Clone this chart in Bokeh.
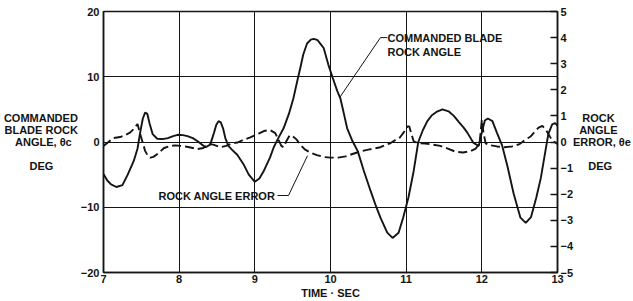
from bokeh.plotting import figure
from bokeh.models import Range1d, LinearAxis, FixedTicker, CustomJSTickFormatter, Label
from bokeh.embed import file_html
from bokeh.resources import INLINE

# Commanded blade rock angle (deg, left axis)
time_cmd = [7.0, 7.05, 7.1, 7.17, 7.25, 7.32, 7.4, 7.45, 7.49, 7.52, 7.55, 7.58, 7.61, 7.65,
            7.71, 7.78, 7.85, 7.92, 7.98, 8.05, 8.11, 8.18, 8.24, 8.3, 8.35, 8.41, 8.46, 8.49,
            8.52, 8.55, 8.58, 8.61, 8.65, 8.7, 8.77, 8.85, 8.92, 9.0, 9.06, 9.12, 9.2, 9.25,
            9.31, 9.38, 9.45, 9.51, 9.56, 9.6, 9.64, 9.69, 9.74, 9.78, 9.83, 9.87, 9.91, 9.97,
            10.03, 10.09, 10.13, 10.17, 10.22, 10.29, 10.36, 10.44, 10.53, 10.6, 10.66, 10.75,
            10.82, 10.9, 10.96, 11.03, 11.1, 11.16, 11.22, 11.28, 11.34, 11.4, 11.48, 11.56,
            11.63, 11.7, 11.76, 11.81, 11.89, 11.96, 12.0, 12.04, 12.08, 12.14, 12.2, 12.27,
            12.34, 12.42, 12.51, 12.58, 12.65, 12.72, 12.78, 12.84, 12.88, 12.93, 12.97, 13.0]
angle_cmd = [-4.9, -5.9, -6.5, -6.9, -6.6, -5.0, -2.9, -1.0, 1.8, 3.6, 4.5, 4.3, 2.8, 1.2,
             0.5, 0.45, 0.6, 0.9, 1.1, 1.05, 0.9, 0.6, 0.15, -0.4, -0.8, -0.4, 1.4, 2.6,
             3.2, 3.0, 2.1, 0.6, -0.6, -1.2, -2.0, -3.4, -5.0, -6.1, -5.6, -4.4, -2.4, -0.8,
             0.6, 2.1, 4.3, 6.7, 9.3, 11.3, 13.4, 15.1, 15.7, 15.8, 15.6, 15.0, 14.4, 11.9,
             9.8, 7.8, 6.7, 4.7, 2.1, 0.15, -1.4, -4.4, -7.5, -9.8, -11.6, -13.9,
             -14.7, -13.9, -11.6, -8.5, -4.4, 0.0, 1.8, 3.2, 4.1, 4.6, 5.0, 4.7,
             4.0, 3.0, 2.2, 1.4, -0.15, -0.6, 1.5, 3.3, 3.6, 3.2, 1.4, -0.6,
             -3.8, -7.9, -11.6, -12.4, -11.5, -8.5, -5.5, -1.4, 1.3, 2.7, 2.9, 2.5]

# Rock angle error (deg, right axis)
time_err = [7.0, 7.05, 7.13, 7.22, 7.29, 7.35, 7.4, 7.45, 7.48, 7.52, 7.55, 7.59, 7.62, 7.66,
            7.73, 7.8, 7.88, 7.95, 8.02, 8.12, 8.24, 8.32, 8.39, 8.45, 8.55, 8.62, 8.7, 8.77,
            8.85, 8.94, 9.05, 9.12, 9.2, 9.27, 9.31, 9.35, 9.38, 9.42, 9.46, 9.5, 9.55, 9.6,
            9.66, 9.73, 9.82, 9.92, 10.0, 10.1, 10.2, 10.3, 10.4, 10.5, 10.58, 10.66, 10.72,
            10.79, 10.86, 10.92, 10.97, 11.02, 11.04, 11.07, 11.1, 11.15, 11.25, 11.35, 11.45,
            11.55, 11.65, 11.75, 11.85, 11.92, 11.97, 12.0, 12.02, 12.05, 12.1, 12.2, 12.3,
            12.4, 12.5, 12.58, 12.64, 12.7, 12.75, 12.8, 12.85, 12.9, 12.94, 13.0]
angle_err = [-0.15, -0.04, 0.15, 0.19, 0.27, 0.36, 0.5, 0.69, 0.35, -0.04, -0.34, -0.55, -0.6, -0.57,
             -0.42, -0.23, -0.15, -0.13, -0.15, -0.19, -0.27, -0.23, -0.08, -0.1, -0.2, -0.15, -0.05, -0.02,
             0.08, 0.18, 0.32, 0.42, 0.46, 0.34, 0.1, -0.15, -0.2, 0.05, 0.25, 0.22, 0.1, -0.1,
             -0.28, -0.4, -0.5, -0.58, -0.6, -0.6, -0.55, -0.45, -0.36, -0.29, -0.25, -0.2, -0.12,
             -0.05, 0.08, 0.18, 0.38, 0.6, 0.6, 0.3, 0.02, -0.04, -0.06, -0.1, -0.15,
             -0.25, -0.37, -0.4, -0.35, -0.25, -0.05, 0.85, 0.4, -0.05, -0.12, -0.17, -0.2,
             -0.17, -0.08, 0.1, 0.2, 0.4, 0.55, 0.62, 0.45, 0.2, 0.04, -0.08]

x_ticks = [7, 8, 9, 10, 11, 12, 13]
left_ticks = [-20, -10, 0, 10, 20]
right_ticks = [-5, -4, -3, -2, -1, 0, 1, 2, 3, 4, 5]

NB = "\u00a0"
left_title = ("COMMANDED\nBLADE ROCK\nANGLE, \u03b8c" + NB * 2 + "\n\nDEG" + NB * 8)
right_title = (NB * 3 + "ROCK\n" + NB * 2 + "ANGLE\nERROR, \u03b8e\n\n" + NB * 5 + "DEG")
x_title = "TIME \u00b7 SEC"

FONT = "Liberation Sans"
INK = "#141414"

p = figure(width=633, height=301, min_border_left=103, min_border_right=76,
           min_border_top=11, min_border_bottom=29,
           x_range=Range1d(7, 13), y_range=Range1d(-20, 20),
           output_backend="svg", toolbar_location=None)
p.extra_y_ranges = {"err": Range1d(-5, 5)}
p.background_fill_color = "white"
p.border_fill_color = "white"
p.outline_line_color = INK
p.outline_line_width = 1.5

minus_fmt = CustomJSTickFormatter(code="return tick < 0 ? '\\u2212' + Math.abs(tick) : String(tick);")

def style_axis(ax):
    ax.axis_line_color = INK
    ax.axis_line_width = 1.5
    ax.major_tick_out = 0
    ax.major_tick_in = 0
    ax.minor_tick_out = 0
    ax.minor_tick_in = 0
    ax.major_label_text_font = FONT
    ax.major_label_text_font_style = "bold"
    ax.major_label_text_font_size = "11px"
    ax.major_label_text_color = INK
    ax.major_label_standoff = 4
    ax.formatter = minus_fmt
    ax.axis_label_text_font = FONT
    ax.axis_label_text_font_style = "bold"
    ax.axis_label_text_font_size = "11px"
    ax.axis_label_text_color = INK
    ax.axis_label_text_line_height = 1.0

xax = p.xaxis[0]
yax = p.yaxis[0]
xax.ticker = FixedTicker(ticks=x_ticks)
yax.ticker = FixedTicker(ticks=left_ticks)
style_axis(xax)
style_axis(yax)
xax.major_label_standoff = 2
xax.axis_label = x_title
xax.axis_label_standoff = 1
yax.axis_label = left_title
yax.axis_label_orientation = "horizontal"
yax.axis_label_standoff = 0

raxis = LinearAxis(y_range_name="err", ticker=FixedTicker(ticks=right_ticks))
style_axis(raxis)
raxis.major_tick_in = 7
raxis.major_tick_line_color = INK
raxis.major_tick_line_width = 1.3
raxis.major_label_standoff = 3
raxis.axis_label = right_title
raxis.axis_label_orientation = "horizontal"
raxis.axis_label_standoff = -3
p.add_layout(raxis, "right")

p.xgrid.grid_line_color = INK
p.xgrid.grid_line_width = 1
p.ygrid.grid_line_color = INK
p.ygrid.grid_line_width = 1

p.line(time_cmd, angle_cmd, line_color=INK, line_width=1.9)
p.line(time_err, angle_err, y_range_name="err", line_color=INK, line_width=1.9,
       line_dash="9 4")

def lab(x, y, text):
    p.add_layout(Label(x=x, y=y, text=text,
                       text_font=FONT, text_font_style="bold", text_font_size="11px",
                       text_color=INK, text_align="left", text_baseline="middle"))

# in-plot callouts (data units)
lab(10.753, 15.9, "COMMANDED BLADE")
lab(10.753, 13.8, "ROCK ANGLE")
p.line([10.75, 10.66, 10.12], [16.0, 16.0, 6.8], line_color=INK, line_width=1)
lab(7.727, -8.2, "ROCK ANGLE ERROR")
p.line([9.30, 9.445, 9.696], [-8.2, -8.2, -2.1], line_color=INK, line_width=1)

open("out.html", "w").write(file_html(p, INLINE))
